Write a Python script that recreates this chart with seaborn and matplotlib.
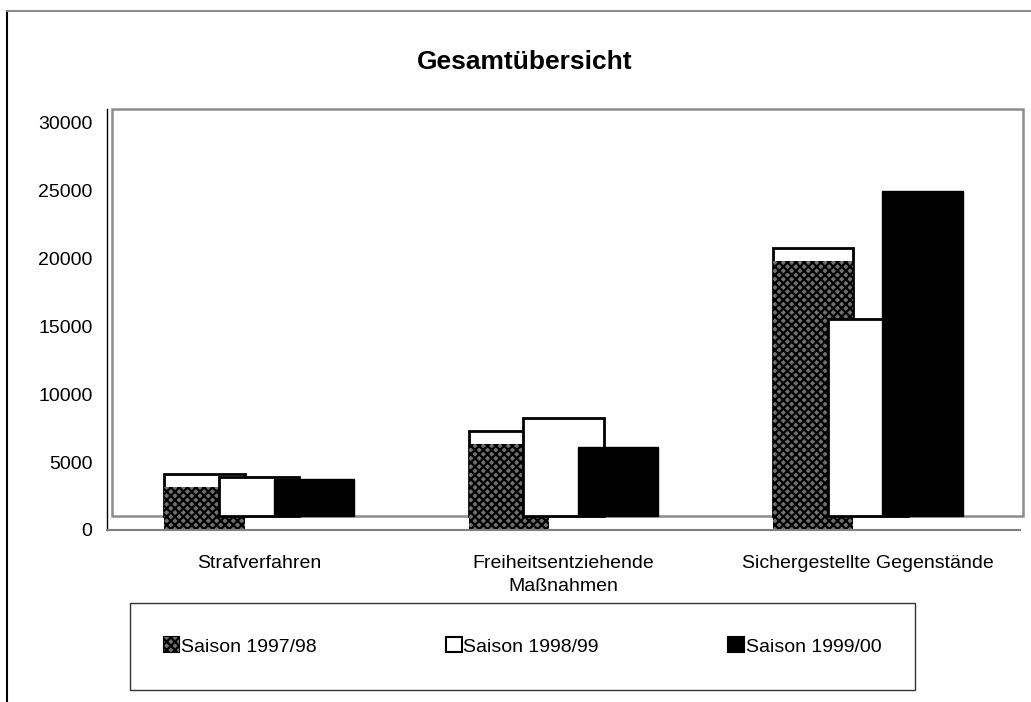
import matplotlib
matplotlib.use("Agg")
import matplotlib.pyplot as plt
from matplotlib.patches import Patch, Rectangle
from matplotlib.lines import Line2D
import pandas as pd
import seaborn as sns

# Data
categories = ["Strafverfahren", "Freiheitsentziehende\nMaßnahmen", "Sichergestellte Gegenstände"]
seasons = ["Saison 1997/98", "Saison 1998/99", "Saison 1999/00"]
s9798 = [4120, 7280, 20740]
s9899 = [3900, 8240, 15520]
s9900 = [3750, 6100, 24930]
yticks = [0, 5000, 10000, 15000, 20000, 25000, 30000]

# Style of the old 3D Excel chart
floor = 1000        # floor of the back wall
sink = 920          # hatched fill of the first series sits lower than its outline
offsets = [-0.18, 0.0, 0.18]
bar_w = 0.264
hatch_face = "#707070"
wall_gray = "#8c8c8c"

sns.set_style("white")
plt.rcParams["font.family"] = ["Liberation Sans", "DejaVu Sans"]
plt.rcParams["text.color"] = "black"
plt.rcParams["xtick.color"] = "black"
plt.rcParams["ytick.color"] = "black"
plt.rcParams["hatch.linewidth"] = 1.6

fig = plt.figure(figsize=(10.31, 7.02), dpi=100)
ax = fig.add_axes([107 / 1031, 1 - 530 / 702, 913 / 1031, 421 / 702])

idx = list(range(len(categories)))


def frame(vals, off):
    return pd.DataFrame({"pos": [i + off for i in idx], "h": [v - floor for v in vals]})


# back wall
ax.add_patch(Rectangle((-0.484, floor), 2.995, 30000, fill=False,
                       edgecolor=wall_gray, lw=1.8, zorder=1, clip_on=False))

d1 = frame(s9798, offsets[0])
sns.barplot(data=d1, x="pos", y="h", native_scale=True, width=bar_w, bottom=floor,
            color="white", edgecolor="black", linewidth=2, errorbar=None, zorder=3, ax=ax)
sns.barplot(data=d1, x="pos", y="h", native_scale=True, width=bar_w, bottom=floor - sink,
            color=hatch_face, edgecolor="black", linewidth=0, hatch="xxxx",
            errorbar=None, zorder=4, ax=ax)
sns.barplot(data=frame(s9899, offsets[1]), x="pos", y="h", native_scale=True, width=bar_w,
            bottom=floor, color="white", edgecolor="black", linewidth=2,
            errorbar=None, zorder=5, ax=ax)
sns.barplot(data=frame(s9900, offsets[2]), x="pos", y="h", native_scale=True, width=bar_w,
            bottom=floor, color="black", edgecolor="black", linewidth=1,
            errorbar=None, zorder=6, ax=ax)

ax.set_xlim(-0.5, 2.5)
ax.set_ylim(0, 31000)
ax.set_xlabel("")
ax.set_ylabel("")

ax.set_yticks(yticks)
ax.set_yticklabels([str(t) for t in yticks], fontsize=14)
ax.set_xticks([-0.5, 0.5, 1.5, 2.5], labels=[])
ax.set_xticks(idx, labels=categories, minor=True)
for lab in ax.get_xticklabels(minor=True):
    lab.set_fontsize(14)
    lab.set_linespacing(1.45)

ax.tick_params(axis="both", which="major", direction="inout", length=10, width=1, color="black")
ax.tick_params(axis="y", pad=5.5)
ax.tick_params(axis="x", which="minor", length=0, pad=18)

for side in ["top", "right"]:
    ax.spines[side].set_visible(False)
ax.spines["left"].set_color("black")
ax.spines["left"].set_linewidth(1)
ax.spines["bottom"].set_color("#808080")
ax.spines["bottom"].set_linewidth(1.5)

fig.text(525 / 1031, 1 - 62 / 702, "Gesamtübersicht", ha="center", va="center",
         fontsize=19, fontweight="bold", color="black")

h1 = (Patch(facecolor="white", edgecolor="black", linewidth=1.5),
      Patch(facecolor=hatch_face, edgecolor="black", linewidth=0, hatch="xxxx"))
h2 = Patch(facecolor="white", edgecolor="black", linewidth=1.5)
h3 = Patch(facecolor="black", edgecolor="black", linewidth=1.5)
leg = fig.legend([h1, h2, h3], seasons, loc="center",
                 bbox_to_anchor=(120 / 1031, 1 - 690 / 702, 805 / 1031, 87 / 702),
                 mode="expand", ncol=3, fontsize=14, frameon=True, fancybox=False,
                 edgecolor="black", borderpad=1.75, handlelength=0.8, handleheight=0.8,
                 handletextpad=0.1)
leg.get_frame().set_linewidth(1)

# outer chart frame (only left and top visible)
fig.add_artist(Line2D([7 / 1031, 7 / 1031], [0, 1 - 11 / 702], color="black", lw=1.5,
                      transform=fig.transFigure))
fig.add_artist(Line2D([7 / 1031, 1], [1 - 11 / 702, 1 - 11 / 702], color=wall_gray, lw=1.5,
                      transform=fig.transFigure))

fig.savefig("out.png", dpi=100)
